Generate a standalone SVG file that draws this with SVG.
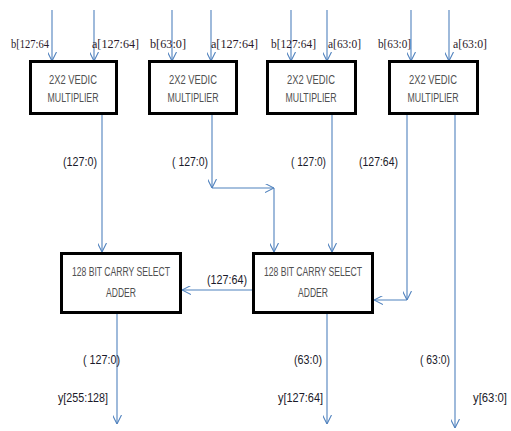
<svg xmlns="http://www.w3.org/2000/svg" width="511" height="431" viewBox="0 0 511 431">
<style>
.box{fill:#fff;stroke:#000;stroke-width:3}
.bt{font-family:"Liberation Sans",Arial,sans-serif;font-size:12px;fill:#505050;text-anchor:middle}
.in{font-family:"Liberation Serif","Times New Roman",serif;font-size:12px;fill:#2a1a2a}
.lb{font-family:"Liberation Sans",Arial,sans-serif;font-size:12px;fill:#1a1a2a}
.w{fill:none;stroke:#4f81bd;stroke-width:1.1}
</style>
<defs>
<marker id="ah" viewBox="0 0 10 10" refX="10" refY="5" markerWidth="9" markerHeight="9" markerUnits="userSpaceOnUse" orient="auto">
<path d="M0,0 L10,5 L0,10" fill="none" stroke="#4f81bd" stroke-width="1.2"/>
</marker>
</defs>
<g id="connectors">
<path class="w" marker-end="url(#ah)" d="M52,10 V61"/>
<path class="w" marker-end="url(#ah)" d="M94,10 V61"/>
<path class="w" marker-end="url(#ah)" d="M172,10 V61"/>
<path class="w" marker-end="url(#ah)" d="M211,10 V61"/>
<path class="w" marker-end="url(#ah)" d="M291,10 V61"/>
<path class="w" marker-end="url(#ah)" d="M327,10 V61"/>
<path class="w" marker-end="url(#ah)" d="M411,10 V61"/>
<path class="w" marker-end="url(#ah)" d="M449,10 V61"/>
<path class="w" marker-end="url(#ah)" d="M102,114 V252"/>
<path class="w" marker-end="url(#ah)" d="M212,114 V188"/>
<path class="w" marker-end="url(#ah)" d="M212,188 H274"/>
<path class="w" marker-end="url(#ah)" d="M274,188 V252"/>
<path class="w" marker-end="url(#ah)" d="M332,114 V252"/>
<path class="w" marker-end="url(#ah)" d="M407,114 V300"/>
<path class="w" marker-end="url(#ah)" d="M407,300 H374"/>
<path class="w" marker-end="url(#ah)" d="M455,114 V428"/>
<path class="w" marker-end="url(#ah)" d="M252,290 H182"/>
<path class="w" marker-end="url(#ah)" d="M117,314 V424"/>
<path class="w" marker-end="url(#ah)" d="M327,314 V424"/>
</g>
<g id="mult1"><rect class="box" x="30.5" y="61.5" width="86" height="52"/><text class="bt" x="73" y="84" textLength="48" lengthAdjust="spacingAndGlyphs">2X2 VEDIC</text><text class="bt" x="73" y="102" textLength="51" lengthAdjust="spacingAndGlyphs">MULTIPLIER</text></g>
<g id="mult2"><rect class="box" x="149.5" y="61.5" width="87" height="52"/><text class="bt" x="193" y="84" textLength="48" lengthAdjust="spacingAndGlyphs">2X2 VEDIC</text><text class="bt" x="193" y="102" textLength="51" lengthAdjust="spacingAndGlyphs">MULTIPLIER</text></g>
<g id="mult3"><rect class="box" x="267.5" y="61.5" width="88" height="52"/><text class="bt" x="311" y="84" textLength="48" lengthAdjust="spacingAndGlyphs">2X2 VEDIC</text><text class="bt" x="311" y="102" textLength="51" lengthAdjust="spacingAndGlyphs">MULTIPLIER</text></g>
<g id="mult4"><rect class="box" x="389.5" y="61.5" width="88" height="52"/><text class="bt" x="433" y="84" textLength="48" lengthAdjust="spacingAndGlyphs">2X2 VEDIC</text><text class="bt" x="433" y="102" textLength="51" lengthAdjust="spacingAndGlyphs">MULTIPLIER</text></g>
<g id="adder1"><rect class="box" x="61.5" y="253.5" width="119" height="59"/><text class="bt" x="121" y="276" textLength="98" lengthAdjust="spacingAndGlyphs">128 BIT CARRY SELECT</text><text class="bt" x="121" y="297" textLength="30" lengthAdjust="spacingAndGlyphs">ADDER</text></g>
<g id="adder2"><rect class="box" x="253.5" y="253.5" width="119" height="59"/><text class="bt" x="313" y="276" textLength="98" lengthAdjust="spacingAndGlyphs">128 BIT CARRY SELECT</text><text class="bt" x="313" y="297" textLength="30" lengthAdjust="spacingAndGlyphs">ADDER</text></g>
<g id="labels">
<text class="in" x="11" y="48" textLength="38" lengthAdjust="spacingAndGlyphs">b[127:64</text>
<text class="in" x="92" y="48" textLength="47" lengthAdjust="spacingAndGlyphs">a[127:64]</text>
<text class="in" x="150" y="48" textLength="36" lengthAdjust="spacingAndGlyphs">b[63:0]</text>
<text class="in" x="211" y="48" textLength="47" lengthAdjust="spacingAndGlyphs">a[127:64]</text>
<text class="in" x="271" y="48" textLength="45" lengthAdjust="spacingAndGlyphs">b[127:64]</text>
<text class="in" x="328" y="48" textLength="33" lengthAdjust="spacingAndGlyphs">a[63:0]</text>
<text class="in" x="378" y="48" textLength="33" lengthAdjust="spacingAndGlyphs">b[63:0]</text>
<text class="in" x="453" y="48" textLength="34" lengthAdjust="spacingAndGlyphs">a[63:0]</text>
<text class="lb" x="63" y="166" textLength="34" lengthAdjust="spacingAndGlyphs">(127:0)</text>
<text class="lb" x="172" y="166" textLength="36" lengthAdjust="spacingAndGlyphs">( 127:0)</text>
<text class="lb" x="291" y="166" textLength="35" lengthAdjust="spacingAndGlyphs">( 127:0)</text>
<text class="lb" x="359" y="166" textLength="39" lengthAdjust="spacingAndGlyphs">(127:64)</text>
<text class="lb" x="207" y="284" textLength="40" lengthAdjust="spacingAndGlyphs">(127:64)</text>
<text class="lb" x="83" y="364" textLength="37" lengthAdjust="spacingAndGlyphs">( 127:0)</text>
<text class="lb" x="294" y="364" textLength="28" lengthAdjust="spacingAndGlyphs">(63:0)</text>
<text class="lb" x="420" y="364" textLength="30" lengthAdjust="spacingAndGlyphs">( 63:0)</text>
<text class="lb" x="58" y="402" textLength="50" lengthAdjust="spacingAndGlyphs">y[255:128]</text>
<text class="lb" x="278" y="402" textLength="45" lengthAdjust="spacingAndGlyphs">y[127:64]</text>
<text class="lb" x="473" y="402" textLength="34" lengthAdjust="spacingAndGlyphs">y[63:0]</text>
</g>
</svg>
